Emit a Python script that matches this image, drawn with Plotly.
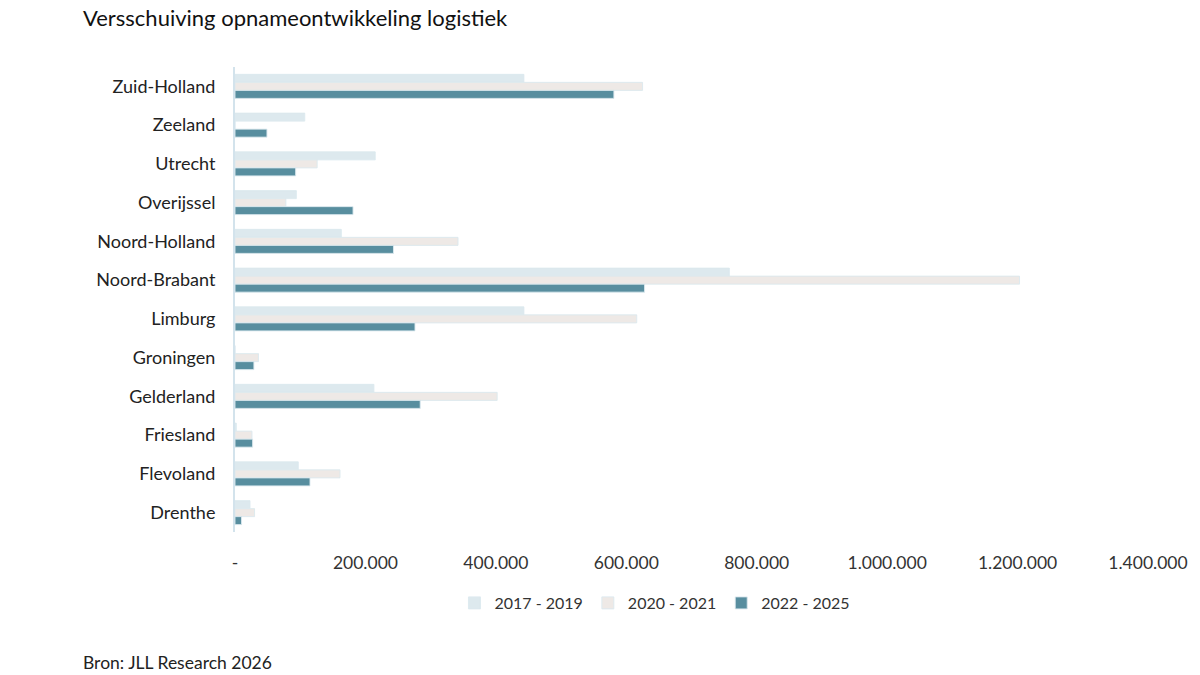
import plotly.graph_objects as go

provinces = ["Zuid-Holland", "Zeeland", "Utrecht", "Overijssel", "Noord-Holland",
             "Noord-Brabant", "Limburg", "Groningen", "Gelderland", "Friesland",
             "Flevoland", "Drenthe"]
v_2017_2019 = [443000, 107000, 215000, 94000, 163000, 758000, 443000, 0, 213000, 2000, 97000, 23000]
v_2020_2021 = [625000, 0, 126000, 78000, 342000, 1203000, 616000, 36000, 402000, 26000, 161000, 30000]
v_2022_2025 = [581000, 49000, 93000, 181000, 243000, 628000, 276000, 29000, 284000, 27000, 115000, 10000]

series_names = ["2017 - 2019", "2020 - 2021", "2022 - 2025"]
series_colors = ["#dde9ee", "#eee9e6", "#588e9f"]
tick_vals = [0, 200000, 400000, 600000, 800000, 1000000, 1200000, 1400000]
tick_text = ["-", "200.000", "400.000", "600.000", "800.000", "1.000.000", "1.200.000", "1.400.000"]

FONT = "Lato"
L, R, T, B = 235, 45, 67, 143
PW, PH = 1200 - L - R, 675 - T - B

fig = go.Figure()
for name, vals, col in zip(series_names, [v_2017_2019, v_2020_2021, v_2022_2025], series_colors):
    fig.add_trace(go.Bar(
        y=provinces, x=vals, name=name, orientation="h",
        marker=dict(color=col, line=dict(color="rgba(220,233,238,0.9)", width=1)),
    ))

fig.update_layout(
    width=1200, height=675,
    paper_bgcolor="white", plot_bgcolor="white",
    margin=dict(l=L, r=R, t=T, b=B),
    barmode="group", bargap=0.38, bargroupgap=0,
    font=dict(family=FONT, color="#222", size=16),
    showlegend=True,
    legend=dict(orientation="h", x=0.46, xanchor="center", y=-(603 - (675 - B)) / PH, yanchor="middle",
                font=dict(size=16, color="#333"), itemwidth=30, traceorder="normal"),
    xaxis=dict(range=[0, 1400000], tickvals=tick_vals, ticktext=tick_text,
               showgrid=False, zeroline=False, showline=False,
               ticks="", tickfont=dict(size=17.5, color="#333"), ticklabelstandoff=18),
    yaxis=dict(autorange="reversed", showgrid=False, zeroline=False,
               showline=True, linecolor="#d3e3ec", linewidth=2,
               ticks="", ticklabelstandoff=14, tickfont=dict(size=18, color="#222")),
)
fig.add_annotation(text="Versschuiving opnameontwikkeling logistiek", xref="paper", yref="paper",
                   x=(80 - L) / PW, y=1 + (T - 18) / PH, xanchor="left", yanchor="middle",
                   showarrow=False, font=dict(size=22, color="#111", family=FONT))
fig.add_annotation(text="Bron: JLL Research 2026", xref="paper", yref="paper",
                   x=(80 - L) / PW, y=-(662 - (675 - B)) / PH, xanchor="left", yanchor="middle",
                   showarrow=False, font=dict(size=17.5, color="#222", family=FONT))

fig.write_html("out.html", config={"displayModeBar": False},
               post_script="document.body.style.margin='0';document.body.style.overflow='hidden';")
